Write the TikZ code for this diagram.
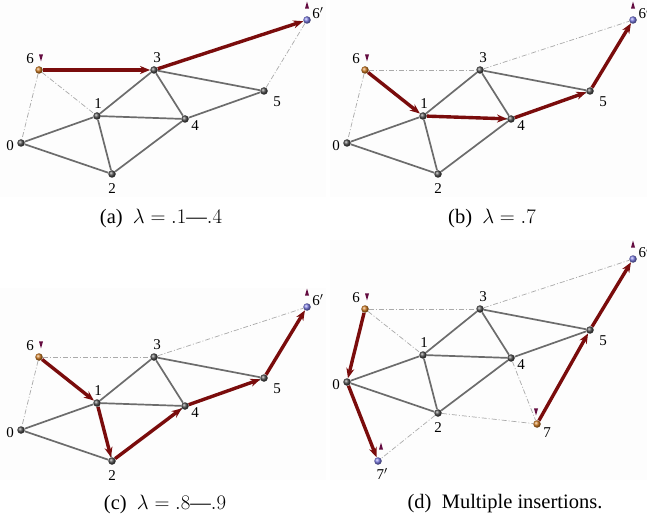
\documentclass[tikz,border=0pt]{standalone}
\usepackage{fontspec}
\setmainfont{Liberation Serif}
\usetikzlibrary{arrows.meta,shapes.geometric}

\definecolor{meshgray}{RGB}{108,108,108}
\definecolor{hintgray}{RGB}{170,170,170}
\definecolor{pathred}{RGB}{122,12,12}
\definecolor{markpurple}{RGB}{100,12,65}
\definecolor{srcorange}{RGB}{205,120,30}
\definecolor{dstblue}{RGB}{120,120,225}
\definecolor{panelbg}{RGB}{253,253,253}

% mesh of one panel: vertices 0-5, start 6 (s) and goal 6' (t)
\newcommand{\meshpanel}[1]{%
  \node[vtx] (#10) at (21,143) {};
  \node[vtx] (#11) at (97,116) {};
  \node[vtx] (#12) at (112,174) {};
  \node[vtx] (#13) at (154,70) {};
  \node[vtx] (#14) at (185,119) {};
  \node[vtx] (#15) at (264,91) {};
  \node[src] (#1s) at (39,70) {};
  \node[dst] (#1t) at (307,20) {};
  \node[lbl] (#1l0) at (10,146) {0};
  \node[lbl] (#1l1) at (98,104) {1};
  \node[lbl] (#1l2) at (112,189) {2};
  \node[lbl] (#1l3) at (157,58) {3};
  \node[lbl] (#1l4) at (195,126) {4};
  \node[lbl] (#1l5) at (277,102) {5};
  \node[lbl] (#1ls) at (30,59) {6};
  \node[lbl] (#1lt) at (318,13) {6$'$};
  \node[markdown] (#1ms) at (41,56) {};
  \node[markup] (#1mt) at (307,7) {};
  \draw[edge] (#10) -- (#11);
  \draw[edge] (#10) -- (#12);
  \draw[edge] (#11) -- (#12);
  \draw[edge] (#11) -- (#13);
  \draw[edge] (#11) -- (#14);
  \draw[edge] (#12) -- (#14);
  \draw[edge] (#13) -- (#14);
  \draw[edge] (#13) -- (#15);
  \draw[edge] (#14) -- (#15);
}

\begin{document}
\begin{tikzpicture}[x=1pt, y=-1pt,
    every node/.style={font=\fontsize{15}{18}\selectfont},
    vtx/.style={circle, inner sep=0pt, minimum size=7.5pt, ball color=black!70},
    src/.style={vtx, ball color=srcorange},
    dst/.style={vtx, ball color=dstblue},
    lbl/.style={inner sep=0pt},
    markdown/.style={isosceles triangle, isosceles triangle stretches, shape border rotate=-90,
      minimum width=4pt, minimum height=7pt, inner sep=0pt, fill=markpurple},
    markup/.style={markdown, shape border rotate=90},
    edge/.style={meshgray, line width=1.7pt},
    hint/.style={hintgray, line width=0.7pt, dash pattern=on 5pt off 2pt on 1pt off 2pt},
    route/.style={pathred, line width=3.4pt, -{Stealth[length=10pt, width=8pt]}},
    caption/.style={font=\fontsize{20.5}{24}\selectfont}]
  \useasboundingbox (0,0) rectangle (647,521);
  \fill[panelbg] (0,0) rectangle (326,197);
  \fill[panelbg] (330,0) rectangle (647,197);
  \fill[panelbg] (0,288) rectangle (326,480);
  \fill[panelbg] (330,240) rectangle (647,480);

  % (a)
  \meshpanel{a}
  \draw[hint] (as) -- (a0);
  \draw[hint] (as) -- (a1);
  \draw[hint] (a5) -- (at);
  \draw[route] (as) -- (a3);
  \draw[route] (a3) -- (at);
  \node[caption] (capa) at (161,218) {(a)\enspace$\lambda = .1$---$.4$};

  % (b)
  \begin{scope}[shift={(326,0)}]
    \meshpanel{b}
    \draw[hint] (bs) -- (b0);
    \draw[hint] (bs) -- (b3);
    \draw[hint] (b3) -- (bt);
    \draw[route] (bs) -- (b1);
    \draw[route] (b1) -- (b4);
    \draw[route] (b4) -- (b5);
    \draw[route] (b5) -- (bt);
  \end{scope}
  \node[caption] (capb) at (492,218) {(b)\enspace$\lambda = .7$};

  % (c)
  \begin{scope}[shift={(0,287)}]
    \meshpanel{c}
    \draw[hint] (cs) -- (c0);
    \draw[hint] (cs) -- (c3);
    \draw[hint] (c3) -- (ct);
    \draw[route] (cs) -- (c1);
    \draw[route] (c1) -- (c2);
    \draw[route] (c2) -- (c4);
    \draw[route] (c4) -- (c5);
    \draw[route] (c5) -- (ct);
  \end{scope}
  \node[caption] (capc) at (165,504) {(c)\enspace$\lambda = .8$---$.9$};

  % (d)
  \begin{scope}[shift={(326,239)}]
    \meshpanel{d}
    \node[src] (du) at (211,185) {};
    \node[dst] (dv) at (52,222) {};
    \node[lbl] (dlu) at (221,194) {7};
    \node[lbl] (dlv) at (56,235) {7$'$};
    \node[markdown] (dmu) at (210,171) {};
    \node[markup] (dmv) at (55,209) {};
    \draw[hint] (ds) -- (d1);
    \draw[hint] (ds) -- (d3);
    \draw[hint] (d3) -- (dt);
    \draw[hint] (d2) -- (du);
    \draw[hint] (d4) -- (du);
    \draw[hint] (d2) -- (dv);
    \draw[route] (ds) -- (d0);
    \draw[route] (d0) -- (dv);
    \draw[route] (du) -- (d5);
    \draw[route] (d5) -- (dt);
  \end{scope}
  \node[caption] (capd) at (505,504) {(d)\enspace Multiple insertions.};
\end{tikzpicture}
\end{document}
